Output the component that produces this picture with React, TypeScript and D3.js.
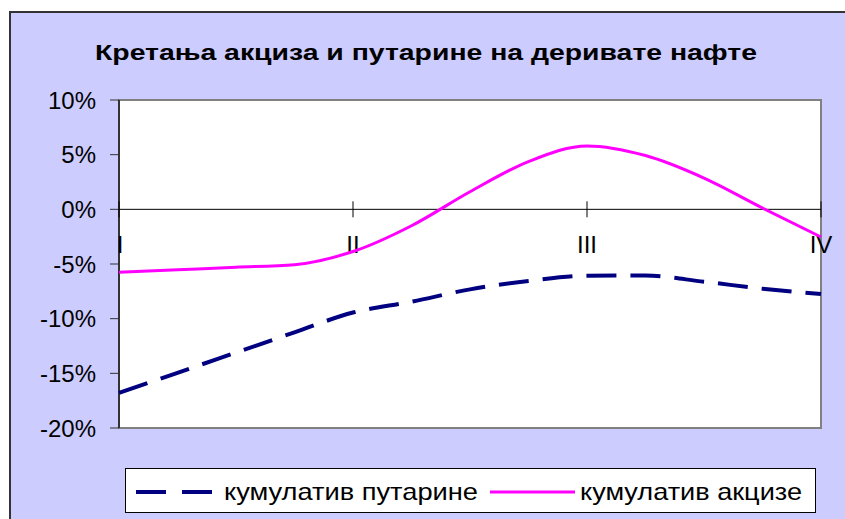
import React from "react";
import * as d3 from "d3";

const quarterLabels = ["I", "II", "III", "IV"];
const yTicks = [10, 5, 0, -5, -10, -15, -20];
// 13 observations: 4 per quarter interval (I..IV)
const akcize = [-5.76, -5.53, -5.3, -5.06, -3.86, -1.5, 1.61, 4.37, 5.8, 4.92, 2.86, 0.12, -2.53];
const putarine = [-16.78, -14.95, -13.1, -11.25, -9.44, -8.45, -7.32, -6.55, -6.07, -6.06, -6.62, -7.26, -7.75];
const seriesNames = ["кумулатив путарине", "кумулатив акцизе"];
const title = "Кретања акциза и путарине на деривате нафте";

export default function App() {
  const W = 845, H = 519;
  const left = 119, right = 821, top = 100, bottom = 428;
  const x = d3.scaleLinear().domain([0, akcize.length - 1]).range([left, right]);
  const y = d3.scaleLinear().domain([-20, 10]).range([bottom, top]);
  const xq = d3.scalePoint<string>().domain(quarterLabels).range([left, right]);
  const line = d3
    .line<number>()
    .x((_, i) => x(i))
    .y((d) => y(d))
    .curve(d3.curveMonotoneX);
  const font = "Liberation Sans, Arial, sans-serif";
  return (
    <svg width={W} height={H} style={{ position: "absolute", left: 0, top: 0 }}>
      <rect x={0} y={0} width={W} height={H} fill="#ffffff" />
      <rect x={10} y={12} width={W} height={H} fill="#CCCCFF" stroke="#333" strokeWidth={2} />
      <text
        x={426}
        y={60}
        textAnchor="middle"
        fontFamily={font}
        fontWeight="bold"
        fontSize={22}
        textLength={662}
        lengthAdjust="spacingAndGlyphs"
        fill="#000"
      >
        {title}
      </text>
      <rect x={left} y={top} width={right - left} height={bottom - top} fill="#fff" stroke="#808080" strokeWidth={2} />
      {yTicks.map((t) => (
        <g key={t}>
          <line x1={110} x2={left} y1={y(t)} y2={y(t)} stroke="#333" strokeWidth={1} />
          <text x={96} y={y(t) + 8.5} textAnchor="end" fontFamily={font} fontSize={24} fill="#000">
            {t + "%"}
          </text>
        </g>
      ))}
      <line x1={left} x2={left} y1={top} y2={bottom} stroke="#333" strokeWidth={2} />
      <line x1={left} x2={right} y1={y(0)} y2={y(0)} stroke="#000" strokeWidth={1} />
      {quarterLabels.map((q) => (
        <g key={q}>
          <line x1={xq(q)} x2={xq(q)} y1={y(0) - 8} y2={y(0) + 8} stroke="#000" strokeWidth={1} />
          <text x={(xq(q) as number) + (q === "I" ? 1 : 0)} y={253} textAnchor="middle" fontFamily={font} fontSize={24} fill="#000">
            {q}
          </text>
        </g>
      ))}
      <path d={line(putarine) || ""} fill="none" stroke="#000080" strokeWidth={4} strokeDasharray="30,14" />
      <path d={line(akcize) || ""} fill="none" stroke="#FF00FF" strokeWidth={3} />
      <rect x={125.5} y={468.5} width={690} height={44} fill="#fff" stroke="#000" strokeWidth={1} />
      <line x1={136} x2={212} y1={492} y2={492} stroke="#000080" strokeWidth={4} strokeDasharray="30,16" />
      <text x={224} y={500} fontFamily={font} fontSize={24} textLength={254} lengthAdjust="spacingAndGlyphs" fill="#000">
        {seriesNames[0]}
      </text>
      <line x1={490} x2={575} y1={492} y2={492} stroke="#FF00FF" strokeWidth={3} />
      <text x={580} y={500} fontFamily={font} fontSize={24} textLength={222} lengthAdjust="spacingAndGlyphs" fill="#000">
        {seriesNames[1]}
      </text>
    </svg>
  );
}
